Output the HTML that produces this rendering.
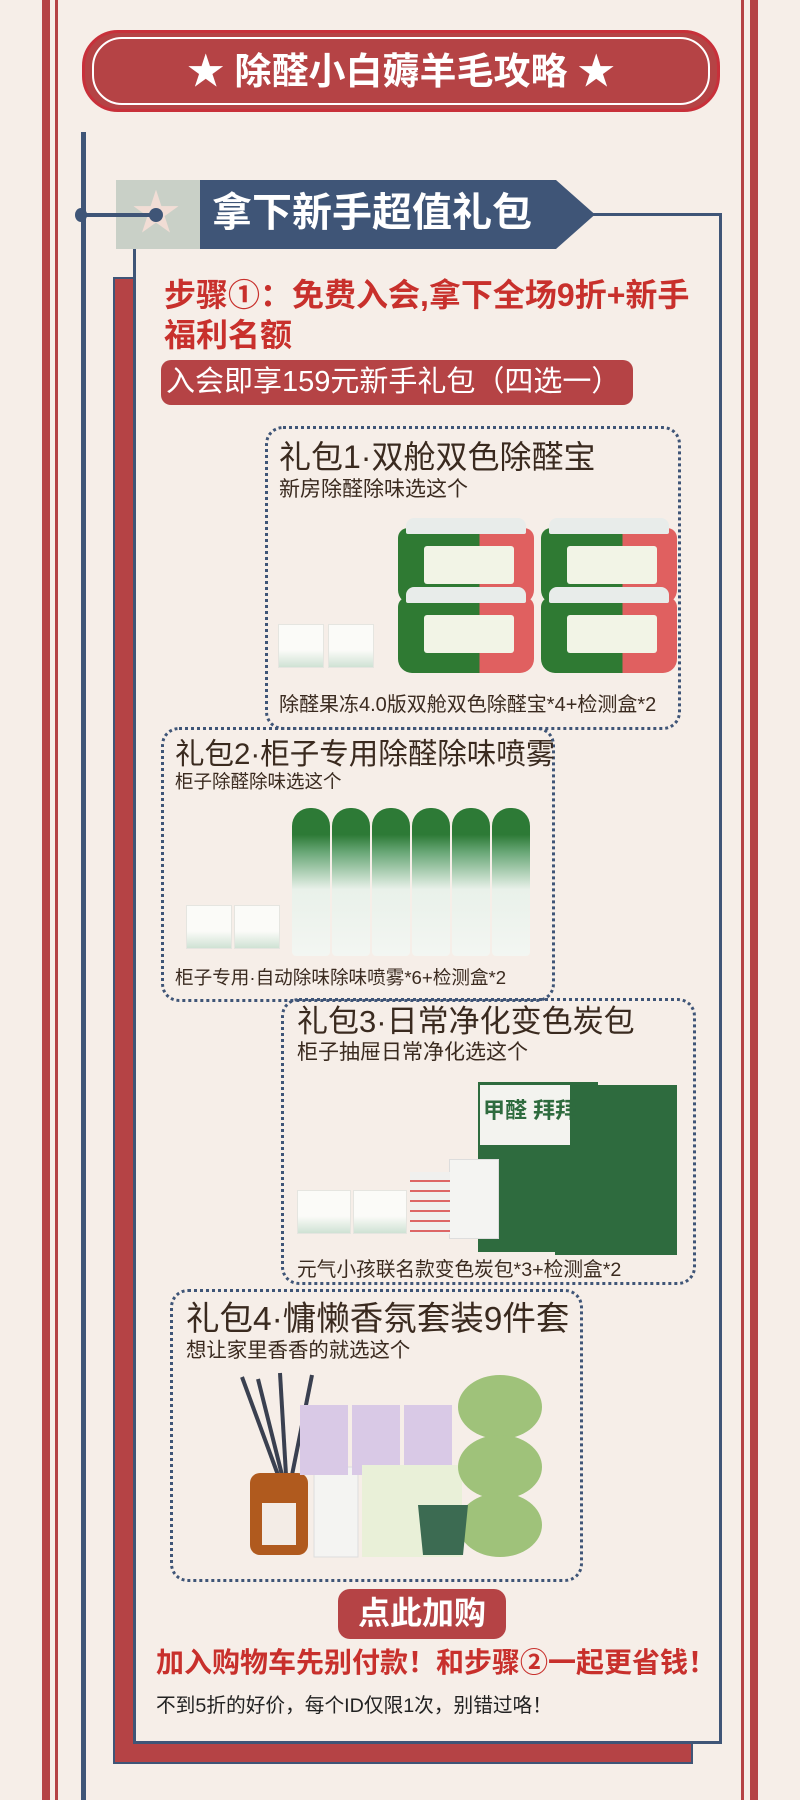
<!DOCTYPE html>
<html><head><meta charset="utf-8"><style>
*{margin:0;padding:0;box-sizing:border-box}
body{width:800px;height:1800px;background:#f6eee8;position:relative;overflow:hidden;font-family:"Liberation Sans","Noto Sans CJK SC",sans-serif}
.a{position:absolute}
.dbox{position:absolute;border:3px dotted #3f5577;border-radius:18px}
.t{position:absolute;color:#3a2a1f;white-space:nowrap;line-height:1}
.jar{position:absolute;width:136px;height:76px;border-radius:10px 10px 14px 14px;background:linear-gradient(90deg,#2f7a33 0 60%,#e06060 60% 100%)}
.jar::before{content:"";position:absolute;left:26px;top:18px;width:90px;height:38px;background:#f2f4e6;border-radius:3px}
.jar::after{content:"";position:absolute;left:8px;top:-10px;width:120px;height:16px;background:#e8ecea;border-radius:8px 8px 2px 2px}
.tb{position:absolute;width:46px;height:44px;background:linear-gradient(#fbfbf8 60%,#cfe2d4);border:1px solid #e5e5e0}
.can{position:absolute;width:38px;height:148px;border-radius:18px 18px 4px 4px;background:linear-gradient(#2d7a36 0 18%,#6aa878 30%,#e9f1ea 55%,#f3f6f2)}
.gbox{position:absolute;width:80px;height:170px;background:#2e6b3e}
</style></head><body>
<div class="a" style="left:42px;top:0;width:8px;height:1800px;background:#b54345"></div>
<div class="a" style="left:55px;top:0;width:3px;height:1800px;background:#b54345"></div>
<div class="a" style="left:741px;top:0;width:3px;height:1800px;background:#b54345"></div>
<div class="a" style="left:750px;top:0;width:8px;height:1800px;background:#b54345"></div>
<div class="a" style="left:81px;top:132px;width:5px;height:1668px;background:#3f5577"></div>

<div class="a" style="left:82px;top:30px;width:638px;height:82px;background:#b54345;border-radius:36px;border:3px solid #c8303a"></div>
<div class="a" style="left:92px;top:37px;width:618px;height:68px;border:2px solid #fff;border-radius:30px"></div>
<div class="t" style="left:82px;top:53px;width:638px;text-align:center;color:#fff;font-size:37px;font-weight:bold">★ 除醛小白薅羊毛攻略 ★</div>

<div class="a" style="left:113px;top:277px;width:22px;height:1487px;background:#b54345;border:2px solid #3f5577;border-right:none"></div>
<div class="a" style="left:113px;top:1742px;width:580px;height:22px;background:#b54345;border:2px solid #3f5577;border-top:none"></div>
<div class="a" style="left:133px;top:215px;width:589px;height:1529px;border:3px solid #3f5577;border-top:none;background:#f6eee8"></div>
<div class="a" style="left:560px;top:213px;width:162px;height:3px;background:#3f5577"></div>

<div class="a" style="left:116px;top:180px;width:84px;height:69px;background:#c9d0c7"></div>
<div class="t" style="left:132px;top:190px;font-size:48px;color:#f1ddd5">★</div>
<div class="a" style="left:80px;top:213px;width:75px;height:4px;background:#3f5577"></div>
<div class="a" style="left:75px;top:208px;width:12px;height:14px;border-radius:50%;background:#3f5577"></div>
<div class="a" style="left:149px;top:208px;width:14px;height:14px;border-radius:50%;background:#3f5577"></div>
<svg class="a" style="left:200px;top:180px" width="400" height="69"><polygon points="0,0 356,0 395,34.5 356,69 0,69" fill="#3f5577"/></svg>
<div class="t" style="left:212px;top:193px;color:#fff;font-size:40px;font-weight:bold">拿下新手超值礼包</div>

<div class="t" style="left:164px;top:275px;color:#c8302c;font-size:32px;font-weight:bold;line-height:40px">步骤①：免费入会,拿下全场9折+新手<br>福利名额</div>
<div class="a" style="left:161px;top:360px;width:472px;height:45px;background:#b54345;border-radius:10px"></div>
<div class="t" style="left:166px;top:368px;color:#fff;font-size:29px">入会即享159元新手礼包（四选一）</div>

<div class="dbox" style="left:265px;top:426px;width:416px;height:304px"></div>
<div class="t" style="left:279px;top:441px;font-size:32px">礼包1·双舱双色除醛宝</div>
<div class="t" style="left:279px;top:479px;font-size:21px">新房除醛除味选这个</div>
<div class="jar" style="left:398px;top:528px"></div>
<div class="jar" style="left:541px;top:528px"></div>
<div class="jar" style="left:398px;top:597px"></div>
<div class="jar" style="left:541px;top:597px"></div>
<div class="tb" style="left:278px;top:624px"></div>
<div class="tb" style="left:328px;top:624px"></div>
<div class="t" style="left:279px;top:695px;font-size:20px">除醛果冻4.0版双舱双色除醛宝*4+检测盒*2</div>

<div class="dbox" style="left:161px;top:727px;width:394px;height:275px"></div>
<div class="t" style="left:175px;top:740px;font-size:29.5px">礼包2·柜子专用除醛除味喷雾</div>
<div class="t" style="left:175px;top:773px;font-size:18.5px">柜子除醛除味选这个</div>
<div class="can" style="left:292px;top:808px"></div>
<div class="can" style="left:332px;top:808px"></div>
<div class="can" style="left:372px;top:808px"></div>
<div class="can" style="left:412px;top:808px"></div>
<div class="can" style="left:452px;top:808px"></div>
<div class="can" style="left:492px;top:808px"></div>
<div class="tb" style="left:186px;top:905px"></div>
<div class="tb" style="left:234px;top:905px"></div>
<div class="t" style="left:175px;top:969px;font-size:18.6px">柜子专用·自动除味除味喷雾*6+检测盒*2</div>

<div class="dbox" style="left:281px;top:998px;width:415px;height:287px"></div>
<div class="t" style="left:297px;top:1006px;font-size:31px">礼包3·日常净化变色炭包</div>
<div class="t" style="left:297px;top:1042px;font-size:21px">柜子抽屉日常净化选这个</div>
<div class="gbox" style="left:597px;top:1085px"></div>
<div class="gbox" style="left:555px;top:1085px"></div>
<div class="gbox" style="left:478px;top:1082px;width:120px;background:#2e6b3e"></div>
<div class="a" style="left:480px;top:1085px;width:90px;height:60px;background:#f3f3ef"></div>
<div class="t" style="left:483px;top:1100px;font-size:22px;font-weight:bold;color:#2e6b3e">甲醛 拜拜</div>
<div class="a" style="left:449px;top:1159px;width:50px;height:80px;background:#f4f4f2;border:1px solid #ddd"></div>
<div class="tb" style="left:297px;top:1190px;width:54px"></div>
<div class="tb" style="left:353px;top:1190px;width:54px"></div>
<div class="a" style="left:410px;top:1172px;width:40px;height:62px;background:repeating-linear-gradient(#f0f0ee 0 8px,#d66 8px 10px)"></div>
<div class="t" style="left:297px;top:1261px;font-size:19.7px">元气小孩联名款变色炭包*3+检测盒*2</div>

<div class="dbox" style="left:170px;top:1289px;width:413px;height:293px"></div>
<div class="t" style="left:186px;top:1303px;font-size:33.5px">礼包4·慵懒香氛套装9件套</div>
<div class="t" style="left:186px;top:1341px;font-size:20.4px">想让家里香香的就选这个</div>
<svg class="a" style="left:230px;top:1355px" width="320" height="220">
<g stroke="#3a4050" stroke-width="4"><line x1="12" y1="22" x2="48" y2="120"/><line x1="28" y1="24" x2="52" y2="120"/><line x1="50" y1="18" x2="56" y2="120"/><line x1="82" y1="20" x2="62" y2="120"/></g>
<rect x="20" y="118" width="58" height="82" rx="10" fill="#b05a1e"/><rect x="32" y="148" width="34" height="42" fill="#f3ece6"/>
<rect x="84" y="112" width="44" height="90" fill="#f4f4f2" stroke="#ddd"/>
<g fill="#d9c9e6"><path d="M70 50h48v70h-48z"/><path d="M122 50h48v70h-48z"/><path d="M174 50h48v70h-48z"/></g>
<rect x="132" y="110" width="100" height="92" fill="#e9f0d8"/>
<g fill="#9fc27a"><ellipse cx="270" cy="52" rx="42" ry="32"/><ellipse cx="270" cy="112" rx="42" ry="32"/><ellipse cx="270" cy="170" rx="42" ry="32"/></g>
<path d="M188 150h50l-5 50h-40z" fill="#3c6b52"/>
</svg>

<div class="a" style="left:338px;top:1589px;width:168px;height:50px;background:#b54345;border-radius:12px"></div>
<div class="t" style="left:338px;top:1597px;width:168px;text-align:center;color:#fff;font-size:32px;font-weight:bold">点此加购</div>
<div class="t" style="left:156px;top:1649px;color:#c8302c;font-size:28px;font-weight:bold">加入购物车先别付款！和步骤②一起更省钱！</div>
<div class="t" style="left:156px;top:1697px;font-size:19.7px;color:#222">不到5折的好价，每个ID仅限1次，别错过咯！</div>
</body></html>
